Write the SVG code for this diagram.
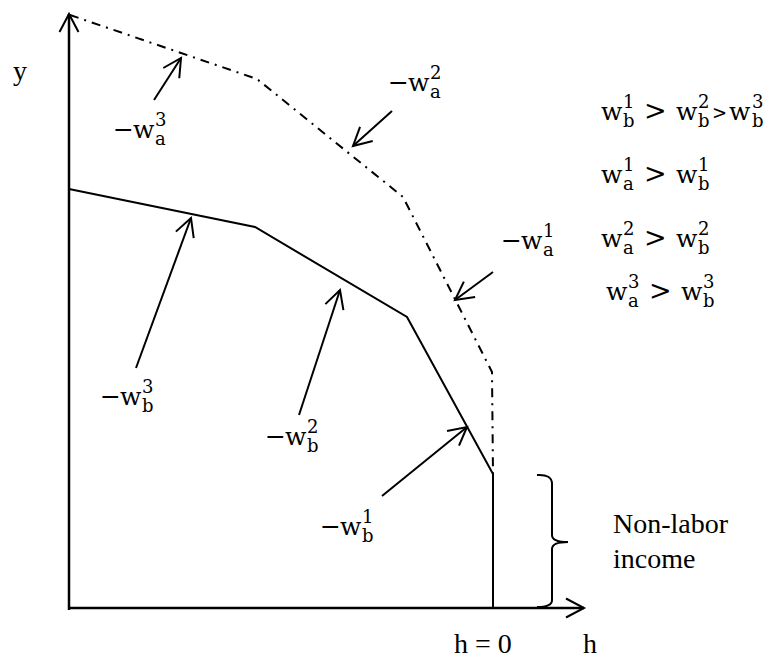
<svg xmlns="http://www.w3.org/2000/svg" width="782" height="660" viewBox="0 0 782 660">
<defs>
<marker id="ah" markerUnits="userSpaceOnUse" markerWidth="40" markerHeight="40" viewBox="-30 -20 40 40" refX="0" refY="0" orient="auto" overflow="visible">
<path d="M-18,-9.5 L0,0 L-18,9.5" fill="none" stroke="#000" stroke-width="2" stroke-linejoin="miter"/>
</marker>
<style>
.ln{fill:none;stroke:#000;stroke-width:2}
.ax{fill:none;stroke:#000;stroke-width:2.5}
.dd{fill:none;stroke:#000;stroke-width:2;stroke-dasharray:9 6 2 6}
.arr{fill:none;stroke:#000;stroke-width:2;marker-end:url(#ah)}
text{fill:#000}
.m,.s,.g,.gs{font-family:"DejaVu Serif","Liberation Serif",serif}
.m{font-size:25px}
.s{font-size:18px}
.g{font-size:27px}
.gs{font-size:18px}
.t{font-family:"Liberation Serif","Times New Roman",serif;font-size:28px}
</style>
</defs>
<rect width="782" height="660" fill="#fff"/>

<g id="axes">
<line class="ax" x1="69" y1="610" x2="69" y2="14" marker-end="url(#ah)"/>
<line class="ax" x1="68" y1="608" x2="584" y2="608" marker-end="url(#ah)"/>
</g>

<g id="budget-b">
<polyline class="ln" points="69,189 255,227 407,317 493,474 493,608"/>
</g>
<g id="budget-a">
<polyline class="dd" points="70,15 257,79 403,197 492,372 493,474"/>
</g>

<g id="brace">
<path class="ln" d="M537,475 Q552,474 552,484 L552,535 Q552,542 568,542 Q552,542 552,549 L552,600 Q552,607 537,607"/>
</g>

<g id="connectors">
<line class="arr" x1="154" y1="100" x2="181" y2="58"/>
<line class="arr" x1="392" y1="111" x2="353" y2="146"/>
<line class="arr" x1="493" y1="272" x2="455" y2="300"/>
<line class="arr" x1="136" y1="368" x2="191" y2="218"/>
<line class="arr" x1="299" y1="415" x2="340" y2="290"/>
<line class="arr" x1="382" y1="496" x2="467" y2="427"/>
</g>

<g id="label-wa3" transform="translate(113,138)">
<text class="m" x="0" y="0">−</text><text class="m" x="20" y="0">w</text><text class="s" x="42" y="7">a</text><text class="s" x="42" y="-12">3</text>
</g>
<g id="label-wa2" transform="translate(388,91)">
<text class="m" x="0" y="0">−</text><text class="m" x="20" y="0">w</text><text class="s" x="42" y="7">a</text><text class="s" x="42" y="-12">2</text>
</g>
<g id="label-wa1" transform="translate(501,249)">
<text class="m" x="0" y="0">−</text><text class="m" x="20" y="0">w</text><text class="s" x="42" y="7">a</text><text class="s" x="42" y="-12">1</text>
</g>
<g id="label-wb3" transform="translate(100,405)">
<text class="m" x="0" y="0">−</text><text class="m" x="20" y="0">w</text><text class="s" x="42" y="7">b</text><text class="s" x="42" y="-12">3</text>
</g>
<g id="label-wb2" transform="translate(265,445)">
<text class="m" x="0" y="0">−</text><text class="m" x="20" y="0">w</text><text class="s" x="42" y="7">b</text><text class="s" x="42" y="-12">2</text>
</g>
<g id="label-wb1" transform="translate(320,535)">
<text class="m" x="0" y="0">−</text><text class="m" x="20" y="0">w</text><text class="s" x="42" y="7">b</text><text class="s" x="42" y="-12">1</text>
</g>

<g id="ineq1" transform="translate(601,120)">
<text class="m" x="0" y="0">w</text><text class="s" x="22" y="7">b</text><text class="s" x="22" y="-12">1</text>
<text class="g" x="43" y="0">&gt;</text>
<text class="m" x="75" y="0">w</text><text class="s" x="97" y="7">b</text><text class="s" x="97" y="-12">2</text>
<text class="gs" x="111" y="-1">&gt;</text>
<text class="m" x="128" y="0">w</text><text class="s" x="151" y="7">b</text><text class="s" x="151" y="-12">3</text>
</g>
<g id="ineq2" transform="translate(601,183)">
<text class="m" x="0" y="0">w</text><text class="s" x="22" y="7">a</text><text class="s" x="22" y="-12">1</text>
<text class="g" x="43" y="0">&gt;</text>
<text class="m" x="75" y="0">w</text><text class="s" x="97" y="7">b</text><text class="s" x="97" y="-12">1</text>
</g>
<g id="ineq3" transform="translate(601,247)">
<text class="m" x="0" y="0">w</text><text class="s" x="22" y="7">a</text><text class="s" x="22" y="-12">2</text>
<text class="g" x="43" y="0">&gt;</text>
<text class="m" x="75" y="0">w</text><text class="s" x="97" y="7">b</text><text class="s" x="97" y="-12">2</text>
</g>
<g id="ineq4" transform="translate(606,300)">
<text class="m" x="0" y="0">w</text><text class="s" x="22" y="7">a</text><text class="s" x="22" y="-12">3</text>
<text class="g" x="43" y="0">&gt;</text>
<text class="m" x="75" y="0">w</text><text class="s" x="97" y="7">b</text><text class="s" x="97" y="-12">3</text>
</g>

<g id="label-y"><text class="t" x="13" y="80">y</text></g>
<g id="label-h"><text class="t" x="583" y="653">h</text></g>
<g id="label-h0"><text class="t" x="454" y="653">h = 0</text></g>
<g id="label-nonlabor"><text class="t" x="613" y="533">Non-labor</text><text class="t" x="613" y="568">income</text></g>
</svg>
